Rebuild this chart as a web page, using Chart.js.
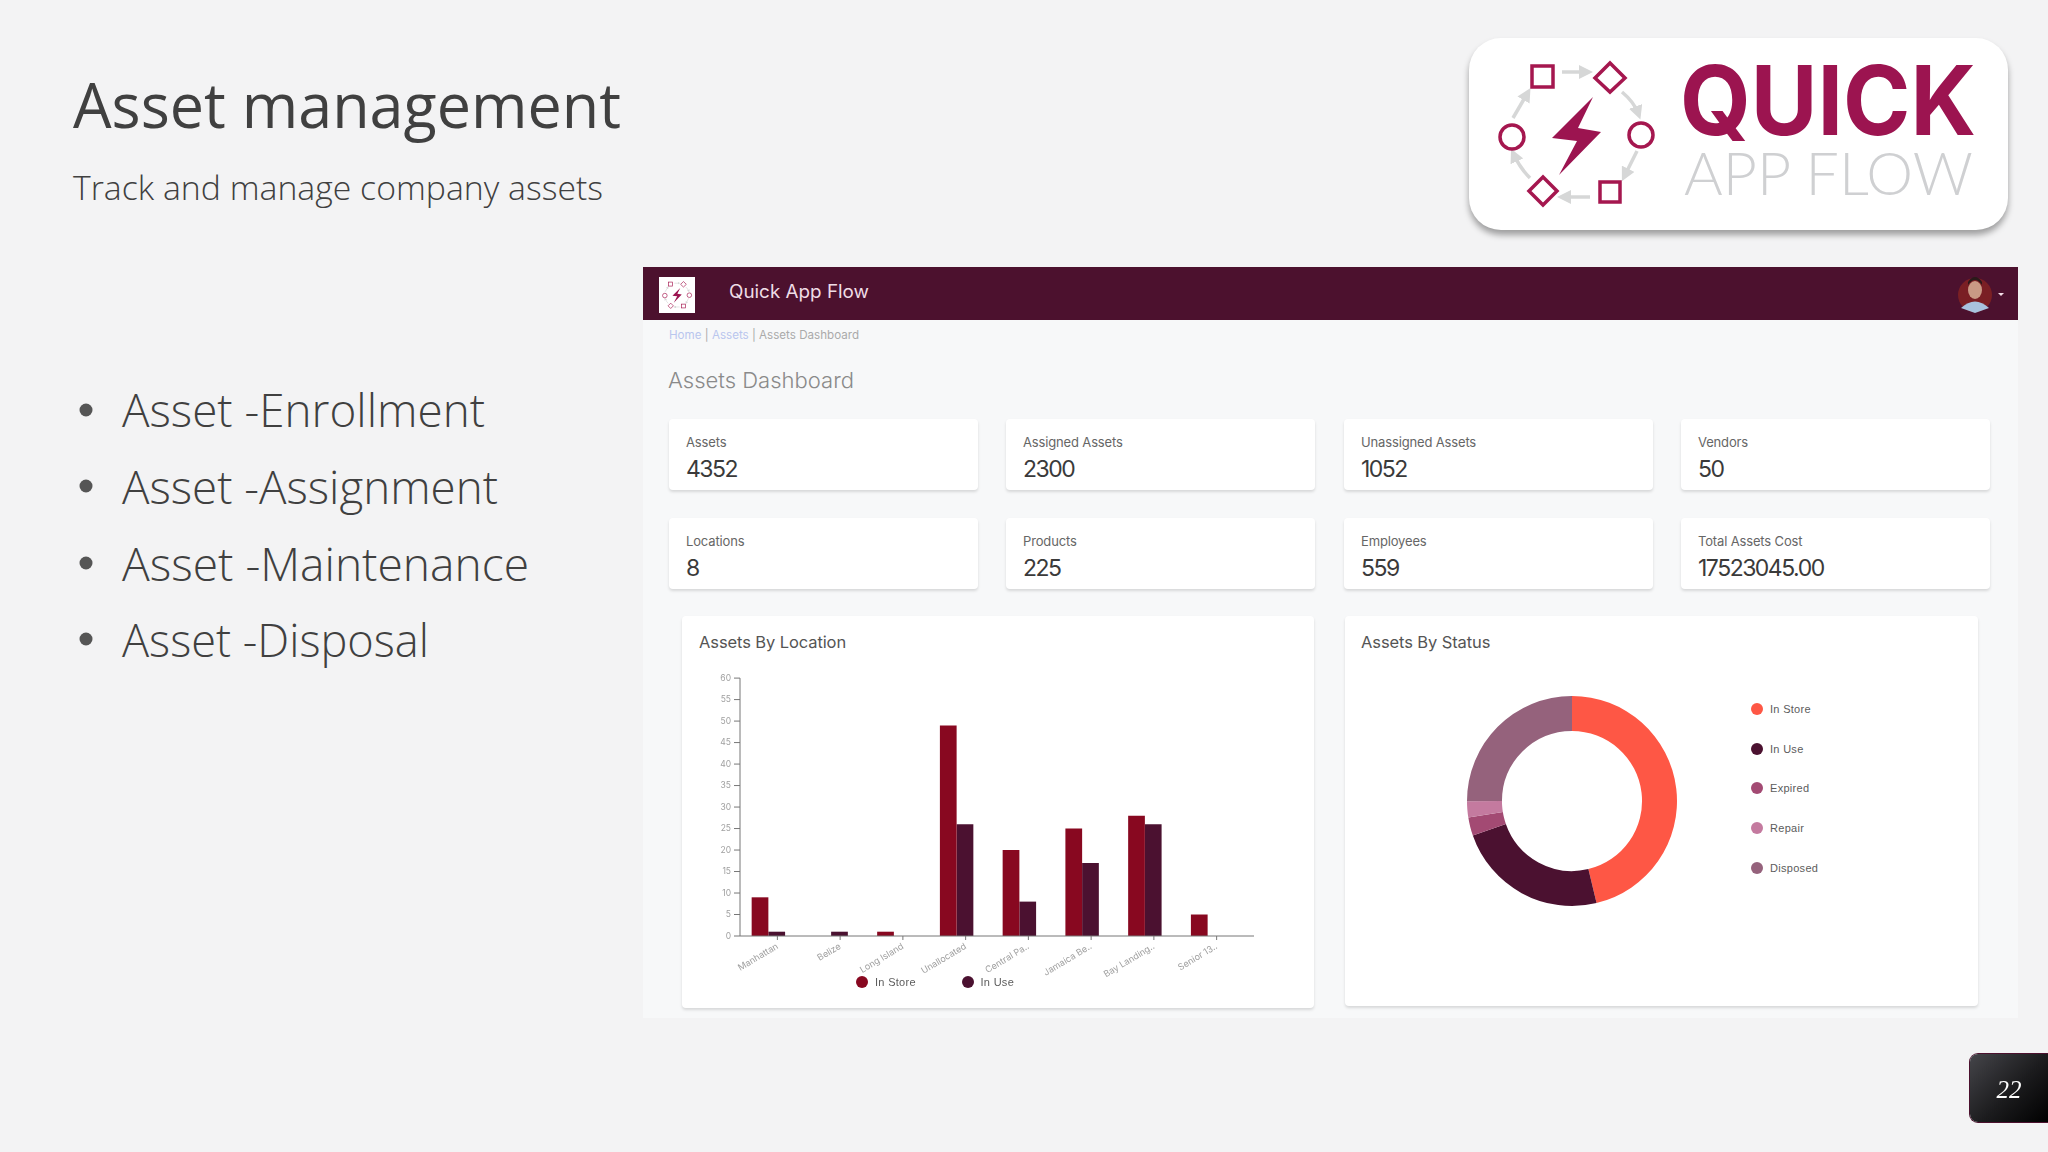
<!DOCTYPE html>
<html>
<head>
<meta charset="utf-8">
<title>Asset management</title>
<script src="https://cdn.jsdelivr.net/npm/chart.js@4"></script>
<style>
  html, body { margin: 0; padding: 0; background: #f3f3f4; }
  body { width: 2048px; height: 1152px; position: relative; overflow: hidden; font-family: Inter, sans-serif; }
  .abs { position: absolute; }
  .shot { left: 643px; top: 267px; width: 1375px; height: 751px; background: #f7f8f9; }
  .bar { left: 643px; top: 267px; width: 1375px; height: 53px; background: #4c112e; }
  .card { background: #fff; border-radius: 4px; box-shadow: 0 2px 3px rgba(0,0,0,.13); }
  .kpi-label { left: 17px; top: 14.5px; font-size: 13px; line-height: 16px; color: #666; letter-spacing: -.15px; white-space: nowrap; }
  .kpi-value { left: 17px; top: 35.5px; font-size: 23px; line-height: 28px; color: #3a3a3a; letter-spacing: -1.5px; white-space: nowrap; }
  .panel-title { font-size: 16.5px; line-height: 20px; color: #555; letter-spacing: -.1px; white-space: nowrap; }
  .legend-dot { width: 12px; height: 12px; border-radius: 50%; }
  .legend-text { font-family: "Liberation Sans", sans-serif; font-size: 11px; line-height: 14px; color: #5c5c5c; letter-spacing: .3px; white-space: nowrap; }
  svg.over { position: absolute; left: 0; top: 0; pointer-events: none; }
  canvas { position: absolute; }
  .page-no { left: 1970px; top: 1054px; width: 78px; height: 68px; border-radius: 8px 0 0 8px; background: linear-gradient(135deg, #45454a 0%, #1b1b1d 55%, #000 100%); box-shadow: 0 0 0 1px #4c112e; }
</style>
</head>
<body>
<div class="abs shot"></div>
<div class="abs bar"></div>
<div class="abs" style="left:1469px;top:38px;width:539px;height:192px;background:#fff;border-radius:32px;box-shadow:0 5px 6px rgba(0,0,0,.35)"></div>
<div class="abs" style="left:659px;top:277px;width:36px;height:36px;background:#fff"></div>
<div id="cards"></div>
<div class="abs card" style="left:682px;top:616px;width:632px;height:392px"></div>
<div class="abs card" style="left:1345px;top:616px;width:633px;height:390px"></div>
<div class="abs panel-title" style="left:699px;top:632px">Assets By Location</div>
<div class="abs panel-title" style="left:1361px;top:632px">Assets By Status</div>

<svg class="over" width="2048" height="1152" viewBox="0 0 2048 1152">
  <defs>
    <marker id="arrow" markerWidth="4" markerHeight="4" refX="2" refY="2" orient="auto">
      <path d="M0 0L4 2L0 4Z" fill="#d6d7d7"/>
    </marker>
    <g id="icon">
      <g stroke="#d6d7d7" stroke-width="3.5" fill="none">
        <path d="M1562 72L1586 72" marker-end="url(#arrow)"/>
        <path d="M1622 92Q1634 102 1638 113" marker-end="url(#arrow)"/>
        <path d="M1637 151L1625 175" marker-end="url(#arrow)"/>
        <path d="M1590 197L1564 197" marker-end="url(#arrow)"/>
        <path d="M1530 178Q1520 168 1514 155" marker-end="url(#arrow)"/>
        <path d="M1513 118L1527 94" marker-end="url(#arrow)"/>
      </g>
      <g stroke="#a5174f" stroke-width="3.5" fill="#fff">
        <rect x="1532" y="66" width="21" height="21"/>
        <rect x="1600" y="182" width="20" height="20"/>
        <path d="M1610 63L1625 78L1610 92L1595 78Z"/>
        <path d="M1543 177L1557 191L1543 205L1529 191Z"/>
        <circle cx="1512" cy="137" r="12"/>
        <circle cx="1641" cy="135" r="12"/>
      </g>
      <path d="M1593 97L1552 138L1577 141L1559 175L1601 132L1578 128Z" fill="#9c1450"/>
    </g>
  </defs>

  <g font-family="'Open Sans', sans-serif" font-weight="300" fill="#404040">
    <text x="73" y="128" font-size="62" textLength="548" lengthAdjust="spacingAndGlyphs" font-weight="400">Asset management</text>
    <text x="73" y="200" font-size="33" textLength="530" lengthAdjust="spacingAndGlyphs">Track and manage company assets</text>
    <g font-size="45.6">
      <text x="122" y="427" textLength="363" lengthAdjust="spacingAndGlyphs">Asset -Enrollment</text>
      <text x="122" y="504" textLength="376" lengthAdjust="spacingAndGlyphs">Asset -Assignment</text>
      <text x="122" y="581" textLength="407" lengthAdjust="spacingAndGlyphs">Asset -Maintenance</text>
      <text x="122" y="657" textLength="307" lengthAdjust="spacingAndGlyphs">Asset -Disposal</text>
    </g>
  </g>
  <g fill="#555">
    <circle cx="86" cy="410" r="6.5"/>
    <circle cx="86" cy="486" r="6.5"/>
    <circle cx="86" cy="563" r="6.5"/>
    <circle cx="86" cy="639" r="6.5"/>
  </g>

  <use href="#icon"/>
  <text x="1680" y="135" font-family="Inter, sans-serif" font-weight="700" font-size="96" fill="#9c1450" textLength="296" lengthAdjust="spacingAndGlyphs">QUICK</text>
  <text x="1684" y="195" font-family="Lato, sans-serif" font-weight="300" font-size="60" fill="#cfd0d2" textLength="289" lengthAdjust="spacingAndGlyphs">APP FLOW</text>

  <use href="#icon" transform="translate(677,295) scale(.19) translate(-1576,-134)"/>
  <text x="729" y="298" font-family="Inter, sans-serif" font-size="18" fill="#efdde6" textLength="140" lengthAdjust="spacingAndGlyphs">Quick App Flow</text>

  <circle cx="1975" cy="295" r="17" fill="#7a1f24"/>
  <ellipse cx="1975" cy="290" rx="7" ry="9" fill="#c99a85"/>
  <path d="M1968 285Q1975 275 1982 285L1982 282Q1975 272 1968 282Z" fill="#2a1a1a"/>
  <path d="M1961 308Q1975 295 1989 308L1975 313Z" fill="#a9c3de"/>
  <path d="M1998 293L2004 293L2001 296Z" fill="#f4dfe8"/>

  <text x="669" y="339" font-family="Inter, sans-serif" font-size="11.5" fill="#aaa" textLength="190" lengthAdjust="spacingAndGlyphs"><tspan fill="#b9c6ee">Home</tspan> | <tspan fill="#b9c6ee">Assets</tspan> | Assets Dashboard</text>
  <text x="668" y="388" font-family="Inter, sans-serif" font-weight="300" font-size="22" fill="#8a8a8a" textLength="186" lengthAdjust="spacingAndGlyphs">Assets Dashboard</text>
</svg>

<canvas id="locationChart" width="600" height="333" style="left:680px;top:667px"></canvas>
<canvas id="statusChart" width="220" height="220" style="left:1462px;top:691px"></canvas>
<div id="barLegend"></div>
<div id="donutLegend"></div>

<div class="abs page-no"></div>
<svg class="over" width="2048" height="1152" viewBox="0 0 2048 1152">
  <text x="2009" y="1098" text-anchor="middle" font-family="'Liberation Serif', serif" font-style="italic" font-size="25" fill="#fff">22</text>
</svg>

<script>
// Values
const kpiLabels = ['Assets', 'Assigned Assets', 'Unassigned Assets', 'Vendors', 'Locations', 'Products', 'Employees', 'Total Assets Cost'];
const kpiValues = ['4352', '2300', '1052', '50', '8', '225', '559', '17523045.00'];

const locations = ['Manhattan', 'Belize', 'Long Island', 'Unallocated', 'Central Pa..', 'Jamaica Be..', 'Bay Landing..', 'Senior 13..'];
const inStore = [9, 0, 1, 49, 20, 25, 28, 5];
const inUse = [1, 1, 0, 26, 8, 17, 26, 0];
const barSeriesNames = ['In Store', 'In Use'];
const barColors = ['#880820', '#4b1130'];

const statuses = ['In Store', 'In Use', 'Expired', 'Repair', 'Disposed'];
const statusShare = [46.2, 23.4, 2.8, 2.5, 25];
const statusColors = ['#fe5745', '#4b1130', '#a34a73', '#c47a9f', '#95627c'];

// KPI cards
const cardX = [669, 1006, 1344, 1681];
const cardY = [419, 518];
const cardsEl = document.getElementById('cards');
kpiLabels.forEach(function(label, i) {
    const card = document.createElement('div');
    card.className = 'abs card';
    card.style.cssText = 'left:' + cardX[i % 4] + 'px;top:' + cardY[Math.floor(i / 4)] + 'px;width:309px;height:71px';
    card.innerHTML = '<div class="abs kpi-label">' + label + '</div><div class="abs kpi-value">' + kpiValues[i] + '</div>';
    cardsEl.appendChild(card);
});

// Legends sit at fixed spots in the panels, so they are plain HTML
function addLegendItem(parent, text, color, x, y) {
    const dot = document.createElement('div');
    dot.className = 'abs legend-dot';
    dot.style.cssText = 'left:' + (x - 6) + 'px;top:' + (y - 6) + 'px;background:' + color;
    const label = document.createElement('div');
    label.className = 'abs legend-text';
    label.style.cssText = 'left:' + (x + 13) + 'px;top:' + (y - 7) + 'px';
    label.textContent = text;
    parent.appendChild(dot);
    parent.appendChild(label);
}
barSeriesNames.forEach(function(name, i) {
    addLegendItem(document.getElementById('barLegend'), name, barColors[i], 862 + i * 105.5, 982);
});
statuses.forEach(function(name, i) {
    addLegendItem(document.getElementById('donutLegend'), name, statusColors[i], 1757, 709 + i * 39.7);
});

// d3-style axes: the lines overshoot the plot, and x ticks sit right of the group centre
const tickShift = 9;
const axisLines = {
    id: 'axisLines',
    afterDatasetsDraw(chart) {
        const ctx = chart.ctx;
        const x = chart.scales.x;
        const y = chart.scales.y;
        const left = chart.chartArea.left + 3;
        const right = chart.chartArea.right + 15;
        ctx.save();
        ctx.strokeStyle = '#777';
        ctx.lineWidth = 1;
        ctx.beginPath();
        ctx.moveTo(left, y.getPixelForValue(60));
        ctx.lineTo(left, y.getPixelForValue(0));
        ctx.lineTo(right, y.getPixelForValue(0));
        y.ticks.forEach(function(t) {
            const py = y.getPixelForValue(t.value);
            ctx.moveTo(left - 6, py);
            ctx.lineTo(left, py);
        });
        x.ticks.forEach(function(t, i) {
            const px = x.getPixelForTick(i) + tickShift;
            ctx.moveTo(px, y.getPixelForValue(0));
            ctx.lineTo(px, y.getPixelForValue(0) + 4);
        });
        ctx.stroke();
        ctx.restore();
    }
};

new Chart(document.getElementById('locationChart').getContext('2d'), {
    type: 'bar',
    data: {
        labels: locations,
        datasets: [
            { label: barSeriesNames[0], data: inStore, backgroundColor: barColors[0] },
            { label: barSeriesNames[1], data: inUse, backgroundColor: barColors[1] }
        ]
    },
    options: {
        responsive: false,
        animation: false,
        categoryPercentage: 0.533,
        barPercentage: 1,
        layout: { autoPadding: false, padding: { left: 27, right: 41, top: 3.2, bottom: 0 } },
        plugins: { legend: { display: false }, tooltip: { enabled: false } },
        scales: {
            x: {
                afterFit: function(s) { s.height = 64; },
                grid: { display: false, drawTicks: false },
                border: { display: false },
                ticks: {
                    autoSkip: false, minRotation: 31, maxRotation: 31,
                    labelOffset: tickShift, padding: 5,
                    color: '#a0a0a0', font: { family: 'Inter', size: 9 }
                }
            },
            y: {
                min: 0, max: 60,
                afterFit: function(s) { s.width = 30; },
                grid: { display: false, drawTicks: false },
                border: { display: false },
                ticks: { stepSize: 5, padding: 6, color: '#a0a0a0', font: { family: 'Inter', size: 8.5 } }
            }
        }
    },
    plugins: [axisLines]
});

new Chart(document.getElementById('statusChart').getContext('2d'), {
    type: 'doughnut',
    data: {
        labels: statuses,
        datasets: [{ data: statusShare, backgroundColor: statusColors, borderWidth: 0 }]
    },
    options: {
        responsive: false,
        animation: false,
        cutout: '66.7%',
        layout: { autoPadding: false, padding: 5 },
        plugins: { legend: { display: false }, tooltip: { enabled: false } }
    }
});
</script>
</body>
</html>
